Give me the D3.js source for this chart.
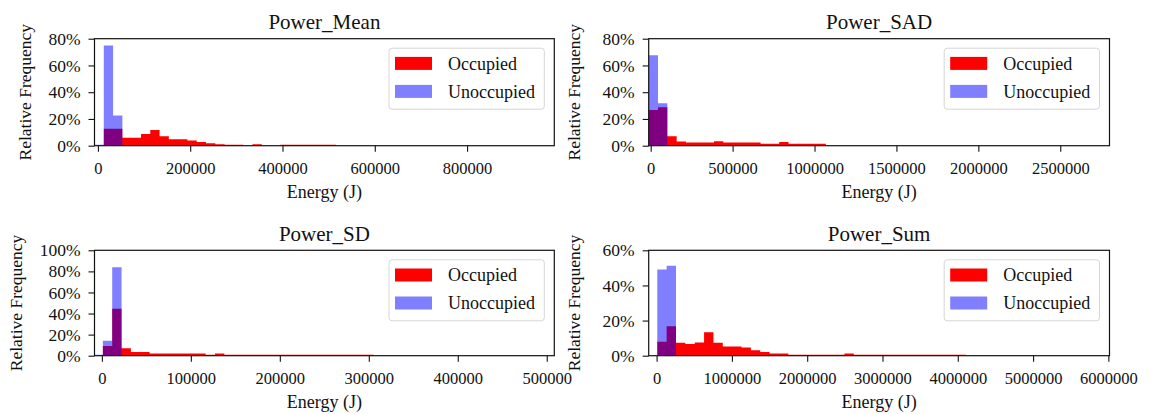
<!DOCTYPE html>
<html lang="en">
<head>
<meta charset="utf-8">
<title>Energy histograms</title>
<style>
  body { margin: 0; background: #fff; }
  text { font-family: "Liberation Serif", "Times New Roman", serif; fill: #111; }
</style>
</head>
<body>
<div id="chart"></div>
<script src="https://d3js.org/d3.v7.min.js"></script>
<script>
// panel titles, reading order
var titles = ["Power_Mean", "Power_SAD", "Power_SD", "Power_Sum"];
var seriesNames = ["Occupied", "Unoccupied"];

// relative frequency (%) of each bin
var meanOccupied   = [0, 12.6, 12.6, 6.0, 6.0, 8.8, 11.8, 7.0, 4.8, 4.8, 3.8, 2.8, 1.8, 1.0, 0.8, 0.8, 0, 1.0, 0, 0, 0.8, 0.8, 0.8, 0.8, 0.8, 0.8];
var meanUnoccupied = [0.8, 75.0, 22.6];

var sadOccupied    = [26.7, 28.7, 7.0, 3.2, 2.3, 2.3, 2.3, 3.3, 2.3, 2.3, 2.3, 2.3, 1.5, 1.5, 2.8, 1.5, 1.5, 1.5, 1.5];
var sadUnoccupied  = [67.7, 31.7];

var sdOccupied     = [0, 9.2, 44.6, 7.0, 3.6, 3.6, 2.0, 2.0, 2.0, 2.0, 2.0, 2.0, 0.8, 2.2,
                      1.0, 1.0, 1.0, 1.0, 1.0, 1.0, 1.0, 1.0, 1.0, 1.0, 1.0, 1.0, 1.0, 1.0, 1.0, 1.0];
var sdUnoccupied   = [1.0, 14.3, 84.0];

var sumOccupied    = [8.0, 16.8, 7.4, 6.6, 7.5, 13.4, 7.4, 5.3, 5.3, 4.7, 3.1, 2.1, 1.2, 1.2,
                      0.6, 0.6, 0.6, 0.6, 0.6, 0.6, 1.3,
                      0.5, 0.5, 0.5, 0.5, 0.5, 0.5, 0.5, 0.5, 0.5, 0.5, 0.5, 0.5];
var sumUnoccupied  = [49.0, 51.2, 0.4];

// bin edges (J): first edge and bin width per panel
var binStart = [-7400, -12200, -9400, 8900];
var binWidth = [20140, 56900, 10500, 124300];

// axis ranges and tick labels
var xLimits = [[-7400, 989000], [-12200, 2800600], [-8300, 508500], [-105000, 6015000]];
var xTicks = [
  [0, 200000, 400000, 600000, 800000],
  [0, 500000, 1000000, 1500000, 2000000, 2500000],
  [0, 100000, 200000, 300000, 400000, 500000],
  [0, 1000000, 2000000, 3000000, 4000000, 5000000, 6000000]
];
var yTicks = [[0, 20, 40, 60, 80], [0, 20, 40, 60, 80], [0, 20, 40, 60, 80, 100], [0, 20, 40, 60]];

var occupied = [meanOccupied, sadOccupied, sdOccupied, sumOccupied];
var unoccupied = [meanUnoccupied, sadUnoccupied, sdUnoccupied, sumUnoccupied];

// layout of the 2x2 grid (pixels)
var cols = [{left: 94.5, right: 554.3, ylab: 31}, {left: 648.7, right: 1109.5, ylab: 580}];
var rows = [{top: 38.7, bottom: 145.7}, {top: 250.3, bottom: 355.7}];

var svg = d3.select("#chart").append("svg")
  .attr("width", 1151)
  .attr("height", 414);

// turn per-bin heights into step points for an area
function steps(values, start, width) {
  var pts = [];
  values.forEach(function(v, k) {
    pts.push({x: start + k * width, v: v});
    pts.push({x: start + (k + 1) * width, v: v});
  });
  return pts;
}

titles.forEach(function(title, i) {
  var c = cols[i % 2], r = rows[Math.floor(i / 2)];
  var yMax = yTicks[i][yTicks[i].length - 1];

  var x = d3.scaleLinear().domain(xLimits[i]).range([c.left, c.right]);
  var y = d3.scaleLinear().domain([0, yMax]).range([r.bottom, r.top]);

  var g = svg.append("g");

  g.append("clipPath").attr("id", "clip" + i)
    .append("rect")
      .attr("x", c.left).attr("y", r.top)
      .attr("width", c.right - c.left).attr("height", r.bottom - r.top);

  var area = d3.area()
    .x(function(d) { return x(d.x); })
    .y0(y(0))
    .y1(function(d) { return y(d.v); });

  // red first, translucent blue on top
  g.append("path")
    .attr("clip-path", "url(#clip" + i + ")")
    .attr("d", area(steps(occupied[i], binStart[i], binWidth[i])))
    .attr("fill", "#ff0000");
  g.append("path")
    .attr("clip-path", "url(#clip" + i + ")")
    .attr("d", area(steps(unoccupied[i], binStart[i], binWidth[i])))
    .attr("fill", "#0000ff")
    .attr("fill-opacity", 0.5);

  // axes
  var xAxis = g.append("g")
    .attr("transform", "translate(0," + r.bottom + ")")
    .call(d3.axisBottom(x).tickValues(xTicks[i]).tickFormat(d3.format("d")).tickSize(6).tickPadding(11));
  xAxis.attr("font-size", 16.5);
  xAxis.select(".domain").remove();

  var yAxis = g.append("g")
    .attr("transform", "translate(" + c.left + ",0)")
    .call(d3.axisLeft(y).tickValues(yTicks[i]).tickFormat(function(d) { return d + "%"; }).tickSize(6).tickPadding(8));
  yAxis.attr("font-size", 17.5);
  yAxis.select(".domain").remove();

  g.selectAll(".tick line").attr("stroke", "#111").attr("stroke-width", 1.1);

  // frame
  g.append("rect")
    .attr("x", c.left).attr("y", r.top)
    .attr("width", c.right - c.left).attr("height", r.bottom - r.top)
    .attr("fill", "none")
    .attr("stroke", "#111")
    .attr("stroke-width", 1.2);

  // title and axis labels
  g.append("text")
    .attr("x", (c.left + c.right) / 2)
    .attr("y", r.top - 9.5)
    .attr("text-anchor", "middle")
    .attr("font-size", 21)
    .text(title);

  g.append("text")
    .attr("x", (c.left + c.right) / 2)
    .attr("y", r.bottom + 52)
    .attr("text-anchor", "middle")
    .attr("font-size", 18)
    .text("Energy (J)");

  var ylx = (i === 2) ? 22 : c.ylab;
  g.append("text")
    .attr("transform", "translate(" + ylx + "," + ((r.top + r.bottom) / 2) + ") rotate(-90)")
    .attr("text-anchor", "middle")
    .attr("font-size", 17.5)
    .text("Relative Frequency");

  // legend, upper right
  var lg = g.append("g")
    .attr("transform", "translate(" + (c.right - 10 - 155.3) + "," + (r.top + 9.5) + ")");
  lg.append("rect")
    .attr("width", 155.3).attr("height", 61).attr("rx", 3)
    .attr("fill", "#fff").attr("fill-opacity", 0.8)
    .attr("stroke", "#d6d6d6").attr("stroke-width", 1);
  var fills = [{fill: "#ff0000", op: 1}, {fill: "#0000ff", op: 0.5}];
  seriesNames.forEach(function(name, k) {
    lg.append("rect")
      .attr("x", 6).attr("y", 8.7 + k * 28)
      .attr("width", 37).attr("height", 13)
      .attr("fill", fills[k].fill).attr("fill-opacity", fills[k].op);
    lg.append("text")
      .attr("x", 59).attr("y", 21.5 + k * 28)
      .attr("font-size", 18)
      .text(name);
  });
});
</script>
</body>
</html>
